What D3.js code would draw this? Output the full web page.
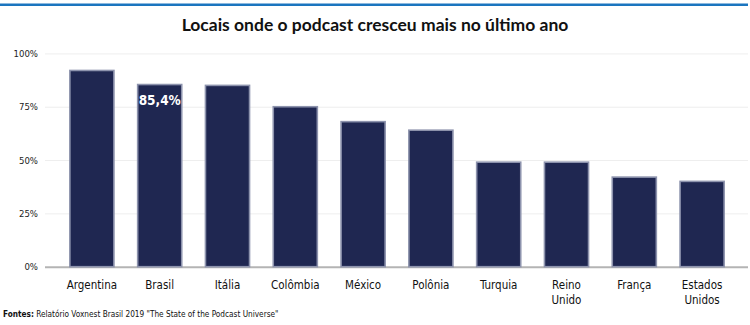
<!DOCTYPE html>
<html><head><meta charset="utf-8">
<script src="https://cdn.jsdelivr.net/npm/d3@7"></script>
<style>
body{margin:0;background:#fff;}
svg{display:block;}
</style></head>
<body>
<script>
const categories = ["Argentina","Brasil","Itália","Colômbia","México","Polônia","Turquia","Reino Unido","França","Estados Unidos"];
const values = [92, 85.4, 85, 75, 68, 64, 49, 49, 42, 40];
const yTicks = [0, 25, 50, 75, 100];
const highlightLabel = {category: "Brasil", text: "85,4%"};
const titleText = "Locais onde o podcast cresceu mais no último ano";
const sourceBold = "Fontes:";
const sourceText = " Relatório Voxnest Brasil 2019 \"The State of the Podcast Universe\"";

const W = 750, H = 325;
const svg = d3.select("body").append("svg").attr("width", W).attr("height", H);

const narrow = "'Liberation Sans Narrow','DejaVu Sans Condensed',Roboto,sans-serif";

// top blue rule
svg.append("rect").attr("x",0).attr("y",3.5).attr("width",748).attr("height",2.5).attr("fill","#1b75bf");

svg.append("text").attr("x",375).attr("y",31).attr("text-anchor","middle")
  .attr("font-family","Lato, 'Open Sans', sans-serif").attr("font-weight","bold")
  .attr("font-size",17.5).attr("fill","#111").text(titleText);

const x = d3.scaleBand().domain(categories).range([58, 736]).paddingInner(0.35).paddingOuter(0.175);
const y = d3.scaleLinear().domain([0,100]).range([266.7, 53.4]);

// grid
const yAxis = svg.append("g").attr("transform","translate(45,0)")
  .call(d3.axisLeft(y).tickValues(yTicks).tickSize(-703).tickFormat(d=>d+"%"));
yAxis.select(".domain").remove();
yAxis.selectAll(".tick line").attr("stroke",d=>d===0?"#b4b4b4":"#eeeeee").attr("stroke-width",d=>d===0?2:1);
yAxis.selectAll(".tick text").attr("x",-7).attr("font-size",9.5).attr("fill","#222")
  .attr("font-family",narrow).attr("dy","0.32em");

// bars
svg.append("g").selectAll("rect").data(categories).join("rect")
  .attr("x",d=>x(d)).attr("y",(d,i)=>y(values[i]))
  .attr("width",x.bandwidth()).attr("height",(d,i)=>y(0)-y(values[i]))
  .attr("fill","#1f2751").attr("stroke","#8d93ad").attr("stroke-width",1.6);

// highlight label
const hi = categories.indexOf(highlightLabel.category);
svg.append("text").attr("x",x(highlightLabel.category)+x.bandwidth()/2).attr("y",y(values[hi])+20)
  .attr("text-anchor","middle").attr("font-family",narrow).attr("font-weight","bold")
  .attr("font-size",13.5).attr("fill","#fff").text(highlightLabel.text);

// category labels
const lab = svg.append("g").selectAll("text").data(categories).join("text")
  .attr("x",d=>x(d)+x.bandwidth()/2).attr("y",289)
  .attr("text-anchor","middle").attr("font-family",narrow).attr("font-size",11.5).attr("fill","#111");
lab.each(function(d){
  const parts = d.split(" ");
  const t = d3.select(this);
  parts.forEach((p,i)=>t.append("tspan").attr("x",x(d)+x.bandwidth()/2).attr("dy",i===0?0:15).text(p));
});

// source
const src = svg.append("text").attr("x",3).attr("y",317).attr("font-family",narrow).attr("font-size",8.2).attr("fill","#111");
src.append("tspan").attr("font-weight","bold").text(sourceBold);
src.append("tspan").text(sourceText);
</script>
</body></html>
